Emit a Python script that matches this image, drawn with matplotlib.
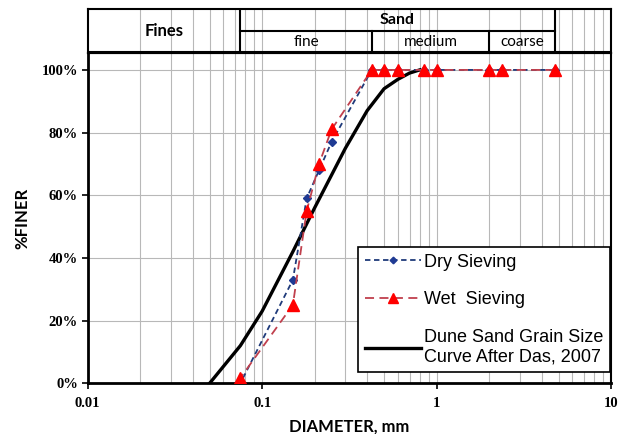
import matplotlib.pyplot as plt
import numpy as np

# sieve sizes (mm) and percent finer
sieve = [4.75, 2.36, 2.0, 1.0, 0.85, 0.6, 0.5, 0.425, 0.25, 0.212, 0.18, 0.15, 0.075]
dry = [100, 100, 100, 100, 100, 100, 100, 100, 77, 68, 59, 33, 0]
wet = [100, 100, 100, 100, 100, 100, 100, 100, 81, 70, 55, 25, 1.7]

das_d = [0.05, 0.075, 0.1, 0.15, 0.2, 0.3, 0.4, 0.5, 0.6, 0.7, 0.8]
das_p = [0, 12, 23, 42, 56, 75, 87, 94, 97, 99, 100]

# USCS boundaries for the header table
bounds = [0.075, 0.425, 2.0, 4.75]
yticks = [0, 20, 40, 60, 80, 100]
xticks = [0.01, 0.1, 1, 10]

serif = 'Liberation Serif'
sans = 'Liberation Sans'
calib = 'Lato'

fig = plt.figure(figsize=(6.18, 4.34), dpi=100)
ax = fig.add_axes([0.1419, 0.1168, 0.8468, 0.7618])
hd = fig.add_axes([0.1419, 0.8786, 0.8468, 0.1007])

for a in (ax, hd):
    a.set_xscale('log')
    a.set_xlim(0.01, 10)
ax.set_ylim(0, 105.5)

minor = [m * 10.0 ** e for e in range(-2, 1) for m in range(2, 10)]
for a in (ax, hd):
    for v in minor + xticks[1:3]:
        a.axvline(v, color='#b8b8b8', lw=0.8, zorder=0)
for v in yticks[1:]:
    ax.axhline(v, color='#b8b8b8', lw=0.8, zorder=0)

ax.plot(das_d, das_p, color='black', lw=2.4, zorder=3,
        label='Dune Sand Grain Size\nCurve After Das, 2007')
ax.plot(sieve, dry, color='#1F3A7A', ls=(0, (3, 2)), lw=1.3, marker='D', ms=4.5,
        mfc='#1F3A93', mec='#1F3A93', zorder=4, label='Dry Sieving')
ax.plot(sieve, wet, color='#C0404D', ls=(0, (5, 3)), lw=1.3, marker='^', ms=9,
        mfc='#FF0000', mec='#FF0000', zorder=5, label='Wet  Sieving')

ax.set_yticks(yticks)
ax.set_yticklabels([f'{v}%' for v in yticks], fontfamily=serif, fontweight='bold', fontsize=10.5)
ax.set_xticks(xticks)
ax.set_xticklabels(['0.01', '0.1', '1', '10'], fontfamily=serif, fontweight='bold', fontsize=10.5)
ax.minorticks_off()
ax.tick_params(axis='both', direction='out', length=4, width=1.2, pad=3)
ax.tick_params(axis='x', pad=6)
for s in ('left', 'bottom'):
    ax.spines[s].set_linewidth(2)
for s in ('top', 'right'):
    ax.spines[s].set_linewidth(1.5)

ax.set_xlabel('DIAMETER, mm', fontfamily=calib, fontweight='bold', fontsize=12, labelpad=6)
ax.set_ylabel('%FINER', fontfamily=calib, fontweight='bold', fontsize=12, labelpad=8)

h, l = ax.get_legend_handles_labels()
order = [1, 2, 0]
leg = ax.legend([h[i] for i in order], [l[i] for i in order], loc='lower right',
                bbox_to_anchor=(0.998, 0.034), prop={'family': sans, 'size': 13},
                frameon=True, fancybox=False, edgecolor='black', framealpha=1,
                handlelength=3.1, labelspacing=1.15, borderpad=0.35, handletextpad=0.2,
                borderaxespad=0, markerscale=0.75)
leg.get_frame().set_linewidth(1.2)

# header table
hd.set_ylim(0, 2)
hd.set_xticks([])
hd.set_yticks([])
hd.minorticks_off()
hd.tick_params(axis='x', which='both', length=0, labelbottom=False)
for s in hd.spines.values():
    s.set_linewidth(1.5)
lk = dict(color='black', lw=1.5, zorder=3)
hd.plot([bounds[0], bounds[0]], [0, 2], **lk)
hd.plot([bounds[3], bounds[3]], [0, 2], **lk)
hd.plot([bounds[1], bounds[1]], [0, 1], **lk)
hd.plot([bounds[2], bounds[2]], [0, 1], **lk)
hd.plot([bounds[0], bounds[3]], [1, 1], **lk)
hd.plot([0.01, 10], [0.02, 0.02], **lk)

def gmid(a, b):
    return np.sqrt(a * b)

hd.text(gmid(0.01, bounds[0]), 1.0, 'Fines', ha='center', va='center',
        fontfamily=calib, fontweight='bold', fontsize=12)
hd.text(gmid(bounds[0], bounds[3]), 1.5, 'Sand', ha='center', va='center',
        fontfamily=calib, fontweight='bold', fontsize=11.5)
for a, b, t in [(bounds[0], bounds[1], 'fine'), (bounds[1], bounds[2], 'medium'),
                (bounds[2], bounds[3], 'coarse')]:
    hd.text(gmid(a, b), 0.48, t, ha='center', va='center', fontfamily=calib, fontsize=11)

fig.savefig('out.png', dpi=100)
